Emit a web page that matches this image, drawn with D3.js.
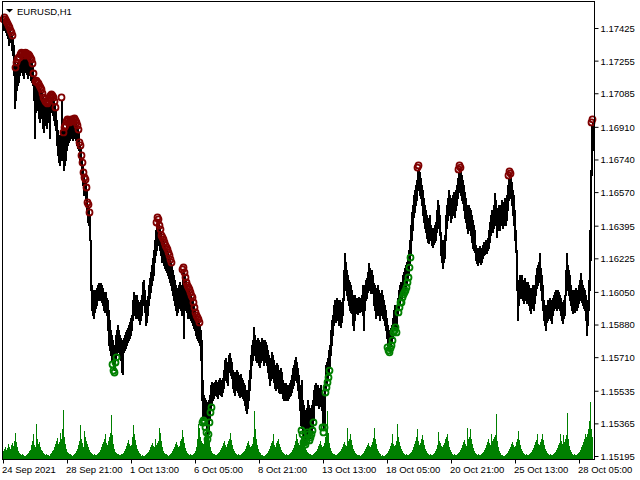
<!DOCTYPE html>
<html><head><meta charset="utf-8">
<script src="https://cdn.jsdelivr.net/npm/d3@7"></script>
<style>
html,body{margin:0;padding:0;background:#fff;}
svg{display:block;}
text{font-family:"Liberation Sans",Arial,sans-serif;font-size:9.5px;fill:#000;}
</style></head><body>
<svg id="c" width="640" height="480"></svg>
<script>
const symbol = "EURUSD,H1";
const timeLabels = ["24 Sep 2021","28 Sep 21:00","1 Oct 13:00","6 Oct 05:00","8 Oct 21:00","13 Oct 13:00","18 Oct 05:00","20 Oct 21:00","25 Oct 13:00","28 Oct 05:00"];
const timeLabelBars = [0,64,128,192,256,320,384,448,512,576];
const priceTicks = [1.17425,1.17255,1.17085,1.16910,1.16740,1.16570,1.16395,1.16225,1.16050,1.15880,1.15710,1.15535,1.15365,1.15195];
// price = 1 + points / 100000
const highPoints = [
17457,17467,17457,17446,17436,17425,17415,17399,17389,17373,
17336,17258,17206,17232,17248,17258,17258,17274,17284,17279,
17268,17279,17284,17279,17268,17274,17268,17258,17248,17227,
17175,17154,17133,17138,17128,17123,17112,17102,17092,17071,
17050,17040,17029,17024,17019,17029,17050,17060,17066,17060,
17050,17029,16998,16946,16894,16868,16842,16868,17050,16946,
16868,16894,16904,16925,16936,16930,16920,16925,16936,16925,
16936,16941,16930,16920,16904,16883,16816,16800,16748,16711,
16659,16633,16623,16581,16503,16492,16451,16321,16086,16060,
16034,16060,16050,16070,16086,16096,16091,16096,16086,16070,
16050,16034,16050,16018,16008,15956,15904,15852,15826,15800,
15774,15758,15826,15852,15878,15852,15826,15810,15800,15774,
15810,15826,15842,15852,15862,15878,15894,15914,15930,16008,
16050,16034,16018,16034,16008,15998,15982,16008,16034,16102,
16112,16060,16008,15998,16029,16086,16122,16154,16190,16227,
16269,16321,16373,16399,16425,16415,16383,16363,16331,16321,
16311,16295,16279,16269,16259,16242,16227,16206,16190,16164,
16138,16112,16086,16060,16070,16086,16102,16086,16070,16154,
16164,16138,16112,16086,16070,16060,16050,16034,16018,16008,
15982,15956,15930,15914,15904,15894,15878,15852,15800,15591,
15513,15497,15487,15477,15461,15487,15513,15565,15581,15575,
15565,15581,15591,15581,15570,15591,15601,15591,15581,15601,
15643,15695,15706,15685,15669,15722,15732,15706,15685,15643,
15633,15617,15633,15643,15633,15617,15612,15622,15601,15591,
15575,15565,15539,15513,15539,15591,15643,15722,15774,15800,
15867,15826,15800,15790,15810,15800,15774,15790,15810,15800,
15784,15800,15790,15774,15748,15722,15695,15706,15738,15722,
15695,15669,15653,15680,15669,15643,15633,15653,15633,15591,
15575,15565,15575,15565,15555,15565,15575,15591,15617,15653,
15669,15695,15711,15685,15653,15617,15565,15513,15591,15487,
15461,15435,15425,15445,15487,15461,15435,15445,15461,15487,
15539,15565,15575,15549,15565,15539,15549,15565,15539,15513,
15487,15591,15669,15685,15706,15748,15774,15852,15904,15930,
15982,16008,15998,16018,16008,15992,16008,15982,15998,16018,
16164,16253,16206,16164,16138,16112,16102,16086,16060,16034,
16008,16034,16008,16018,16008,16024,16008,16018,16034,16086,
16060,16086,16112,16122,16154,16201,16174,16154,16164,16138,
16096,16086,16060,16070,16086,16060,16034,16044,16060,16034,
16008,15982,15956,15914,15878,15852,15842,15862,15878,15914,
15956,15982,15966,15956,16018,16060,16086,16102,16086,16138,
16154,16174,16190,16206,16227,16269,16321,16399,16467,16503,
16555,16581,16607,16633,16685,16696,16675,16644,16607,16581,
16539,16503,16477,16451,16435,16425,16451,16399,16383,16373,
16383,16399,16415,16477,16529,16503,16451,16363,16321,16295,
16321,16347,16451,16503,16539,16581,16555,16529,16539,16555,
16571,16555,16581,16607,16644,16675,16696,16685,16659,16633,
16607,16571,16539,16503,16477,16503,16487,16477,16451,16425,
16399,16373,16295,16279,16269,16279,16290,16269,16279,16295,
16311,16300,16321,16311,16331,16373,16415,16451,16477,16467,
16503,16565,16529,16477,16487,16503,16477,16503,16529,16503,
16519,16539,16529,16555,16607,16644,16665,16654,16623,16581,
16555,16477,16373,16269,16086,16112,16138,16122,16138,16112,
16096,16122,16102,16086,16102,16086,16070,16050,16070,16086,
16060,16086,16138,16174,16190,16206,16253,16174,16138,16086,
16008,15982,15966,15982,16008,15998,16018,16008,15992,16018,
16034,16050,16060,16044,16060,16050,16034,16018,15998,15982,
16008,16034,16164,16253,16190,16164,16138,16086,16060,16050,
16060,16044,16070,16050,16060,16086,16112,16148,16112,16086,
16070,16060,16034,15982,16008,16112,16373,16685,16920,16936];
const lowPoints = [
17415,17425,17405,17389,17373,17336,17363,17352,17310,17284,
17180,17008,17050,17102,17128,17144,17180,17196,17206,17180,
17164,17196,17206,17185,17164,17196,17180,17154,17144,17128,
17050,16852,16988,17024,16998,16956,16936,16972,16956,16904,
16883,16946,16920,16904,16936,16956,16852,16988,16988,16972,
16946,16920,16894,16816,16764,16727,16711,16737,16790,16737,
16685,16711,16737,16790,16816,16832,16842,16852,16863,16842,
16852,16863,16842,16816,16800,16790,16737,16711,16644,16607,
16555,16571,16529,16467,16415,16399,16321,16060,15956,15930,
15914,15946,15966,15982,16008,16018,16008,16018,15998,15982,
15956,15946,15966,15930,15852,15774,15748,15722,15695,15685,
15653,15643,15695,15722,15748,15738,15722,15695,15633,15622,
15738,15748,15758,15774,15790,15800,15810,15826,15852,15904,
15946,15930,15914,15956,15914,15904,15883,15904,15930,15982,
16008,15946,15878,15894,15930,15982,16018,16050,16086,16112,
16138,16206,16242,16269,16321,16295,16269,16242,16206,16206,
16190,16174,16164,16154,16138,16122,16102,16086,16060,16034,
16008,15982,15956,15930,15946,15966,15982,15956,15930,16008,
15810,15982,15956,15946,15914,15930,15914,15904,15894,15878,
15862,15852,15826,15810,15800,15790,15774,15695,15487,15383,
15393,15383,15357,15331,15295,15321,15383,15435,15461,15487,
15497,15513,15523,15508,15497,15518,15529,15513,15508,15529,
15549,15591,15601,15581,15565,15633,15643,15617,15601,15549,
15529,15513,15539,15549,15529,15513,15503,15518,15508,15497,
15487,15461,15435,15419,15445,15487,15539,15601,15669,15695,
15748,15722,15695,15685,15706,15669,15659,15685,15706,15695,
15669,15695,15685,15669,15633,15601,15565,15591,15617,15601,
15581,15549,15539,15565,15549,15529,15523,15539,15523,15497,
15487,15487,15497,15487,15487,15497,15508,15513,15529,15549,
15565,15591,15601,15581,15539,15497,15435,15357,15341,15321,
15279,15279,15268,15289,15331,15321,15289,15305,15321,15341,
15383,15461,15487,15461,15477,15445,15456,15471,15435,15357,
15331,15357,15539,15565,15591,15617,15653,15722,15774,15826,
15878,15914,15894,15930,15904,15878,15914,15867,15894,15930,
16008,16112,16060,16034,16008,15982,15956,15946,15940,15878,
15852,15904,15940,15946,15935,15956,15946,15951,15956,15930,
15852,15956,16008,16018,16050,16086,16060,16044,16060,16044,
15982,15956,15914,15930,15966,15930,15904,15930,15946,15914,
15904,15878,15852,15810,15774,15758,15748,15769,15784,15810,
15852,15862,15878,15852,15930,15956,15982,16008,16008,16034,
16050,16060,16070,16086,16112,16138,16190,16242,16321,16373,
16441,16467,16503,16529,16581,16607,16555,16539,16503,16451,
16415,16383,16363,16331,16311,16305,16347,16321,16295,16284,
16300,16311,16321,16363,16399,16383,16347,16242,16206,16174,
16206,16227,16321,16383,16425,16467,16451,16415,16435,16451,
16467,16441,16477,16503,16539,16571,16592,16555,16529,16513,
16477,16435,16415,16383,16357,16383,16373,16347,16311,16279,
16269,16258,16216,16201,16190,16206,16216,16195,16206,16227,
16242,16248,16258,16253,16269,16279,16311,16347,16373,16363,
16383,16435,16399,16336,16373,16383,16373,16399,16415,16383,
16399,16425,16399,16425,16477,16529,16555,16539,16503,16451,
16399,16321,16258,16060,15904,15982,16034,16018,16044,16008,
15992,16024,16008,15992,16008,15982,15956,15940,15966,15982,
15956,15992,16034,16070,16086,16102,16122,16060,16008,15956,
15904,15878,15852,15894,15904,15914,15930,15904,15888,15930,
15956,15966,15977,15956,15982,15966,15956,15930,15904,15888,
15914,15930,16034,16112,16060,16034,16008,15982,15956,15940,
15966,15946,15977,15956,15972,15992,16008,16034,15998,15982,
15966,15956,15904,15826,15878,15956,16060,16216,16659,16790];
const tickVolumes = [
800,1000,1200,900,1100,1500,1200,1000,1400,1600,1300,1800,2600,1700,1200,800,600,500,400,
500,400,300,300,400,500,600,800,900,1400,1800,2500,1400,1200,3500,2000,1500,1700,1200,900,800,600,500,400,
500,400,400,300,500,600,800,900,1200,1500,1800,2100,1500,1700,2600,2000,3000,4900,2200,1500,1000,700,600,500,
500,400,300,400,500,600,800,1000,1400,1800,3400,2000,1600,1200,2800,2200,1800,1500,1200,900,700,600,500,400,
500,400,400,500,600,700,900,1200,1500,1700,2000,2500,1600,1400,1800,2200,2600,4400,2400,1500,1000,700,600,500,
500,400,400,500,500,600,800,1000,1300,1600,1900,1500,1300,1400,2200,3400,2500,1900,1400,1000,800,600,500,300,
400,300,300,400,500,600,700,900,1200,1400,1600,1300,1200,2000,1400,1600,1800,3100,2600,1800,1200,800,600,500,
500,400,300,400,500,600,800,1000,1200,1500,1700,1400,1200,1300,1800,2000,2900,2200,1600,1100,800,600,500,400,
500,400,400,500,600,800,1200,2000,3500,3100,2200,1800,1600,1500,2000,2500,3000,4000,2800,1800,1200,800,600,500,
500,400,400,500,600,700,900,1100,1300,1600,1800,1400,1200,1500,1800,2000,2600,1900,1400,1000,800,600,500,400,
500,400,400,500,600,700,800,1000,1300,1600,1800,1400,1200,1300,1500,2200,4800,3000,2000,1400,1000,700,600,400,
400,300,300,400,500,600,800,1000,1300,1600,1800,2500,1400,1200,1600,1800,2000,1500,1200,900,700,600,500,400,
500,400,400,500,600,700,900,1100,1400,1800,2500,2000,1600,1400,1700,2200,3000,2400,1600,1200,900,700,600,500,
500,400,400,500,600,700,800,1000,1300,1500,1800,1400,1200,1300,1600,2200,3000,4800,2600,1600,1100,800,600,500,
500,400,400,500,600,700,800,1000,1200,1500,1700,1400,1300,3100,1800,2000,2500,1900,1400,1000,800,600,500,400,
400,400,300,400,500,600,800,1000,1200,1400,1600,1300,1200,1400,1700,2100,3100,2000,1500,1000,800,600,500,300,
400,300,300,400,500,600,800,1000,1300,1600,2500,1500,1300,1400,1800,3500,2200,1700,1300,1000,800,600,500,400,
500,400,400,500,600,700,900,1200,1500,1800,2200,3000,1800,1400,1600,2000,2400,1900,1400,1000,800,600,500,400,
500,400,400,500,600,800,1000,1400,2700,1800,1600,1300,1200,1400,1600,2000,2200,2500,1800,1200,900,700,500,400,
500,400,400,500,600,700,900,1100,1400,1700,1900,1500,1300,3100,2000,2200,3000,2000,1500,1100,800,600,500,400,
500,400,400,500,600,700,900,1100,1400,1700,2000,1600,1400,2500,1800,2000,2200,2400,4500,1800,1200,800,600,400,
400,300,300,400,500,600,800,1000,1200,1500,1700,1400,1200,1300,1700,2000,2800,1900,1400,1000,800,600,500,400,
500,400,400,500,600,700,900,1100,1400,1700,1900,2500,1500,1400,1700,2000,2500,1900,1400,1000,800,600,500,400,
500,400,400,500,600,700,900,1100,1400,1600,2500,1800,1500,2400,1700,2000,2400,4600,2000,1300,900,700,500,400,
500,400,400,500,600,700,900,1200,1400,1700,2000,2500,2200,2500,3000,3800,5700,3000,2200];
const sellSignals = [0,1,2,3,4,5,6,7,8,9,
12,13,14,15,16,17,18,19,20,21,22,23,24,25,26,27,28,29,30,
32,33,34,35,36,37,38,39,40,41,42,43,44,45,46,47,48,49,50,51,52,
58,
60,61,62,63,64,65,66,67,68,69,70,71,72,73,74,75,76,77,78,79,80,81,82,83,84,85,86,
153,154,155,156,157,158,159,160,161,162,163,164,165,166,167,168,
179,180,181,182,183,184,185,186,187,188,189,190,191,192,193,194,195,196,
414,415,455,456,457,505,506,507,588,589];
const buySignals = [109,110,111,112,113,
199,200,201,202,203,204,205,206,207,208,
298,299,300,301,302,303,304,305,306,307,308,309,310,
319,320,321,322,323,324,325,326,
384,385,386,387,388,389,390,391,392,393,
395,396,397,398,399,400,401,402,403,404,405,406,407];

const bars = highPoints.map((h, i) => ({
  i, high: 1 + h / 1e5, low: 1 + lowPoints[i] / 1e5, vol: tickVolumes[i]
}));

const svg = d3.select('#c');
const frame = {l: 2.5, r: 594.5, t: 1.5, b: 459.5};
const x = d3.scaleLinear().domain([0, bars.length - 1]).range([3, 3 + bars.length - 1]);
const y = d3.scaleLinear().domain([1.15195, 1.17425]).range([456, 28]);
const yv = d3.scaleLinear().domain([0, 6000]).range([459, 399]);

// volumes
svg.append('g').attr('shape-rendering', 'crispEdges').selectAll('rect').data(bars).join('rect')
  .attr('x', d => x(d.i)).attr('width', 1)
  .attr('y', d => yv(d.vol)).attr('height', d => yv(0) - yv(d.vol))
  .attr('fill', '#008000');

// price bars
svg.append('g').attr('shape-rendering', 'crispEdges').selectAll('rect').data(bars).join('rect')
  .attr('x', d => x(d.i)).attr('width', 2)
  .attr('y', d => Math.round(y(d.high)))
  .attr('height', d => Math.max(1, Math.round(y(d.low)) - Math.round(y(d.high)) + 1))
  .attr('fill', '#000');

// signals
svg.append('g').selectAll('circle').data(sellSignals).join('circle')
  .attr('cx', i => x(i) + 0.5).attr('cy', i => y(bars[i].high) - 2.5).attr('r', 3)
  .attr('fill', 'none').attr('stroke', '#800000').attr('stroke-width', 1.8);
svg.append('g').selectAll('circle').data(buySignals).join('circle')
  .attr('cx', i => x(i) + 0.5).attr('cy', i => y(bars[i].low) + 2.5).attr('r', 3)
  .attr('fill', 'none').attr('stroke', '#008000').attr('stroke-width', 1.8);

// frame
svg.append('rect').attr('x', frame.l).attr('y', frame.t)
  .attr('width', frame.r - frame.l).attr('height', frame.b - frame.t)
  .attr('fill', 'none').attr('stroke', '#000').attr('stroke-width', 1);

// price axis
const ya = svg.append('g').attr('transform', `translate(${frame.r},0)`)
  .call(d3.axisRight(y).tickValues(priceTicks).tickSize(4).tickPadding(2).tickFormat(d3.format('.5f')));
ya.select('.domain').remove();
ya.selectAll('text').attr('font-family', null).attr('font-size', null).attr('dy', '0.36em');
ya.selectAll('line').attr('stroke', '#000');

// time axis
const xa = svg.append('g').attr('transform', `translate(0,${frame.b})`)
  .call(d3.axisBottom(x).tickValues(timeLabelBars).tickSize(4).tickPadding(3)
    .tickFormat((d, i) => timeLabels[i]));
xa.select('.domain').remove();
xa.selectAll('text').attr('font-family', null).attr('font-size', null)
  .attr('text-anchor', 'start').attr('x', -1.5);
xa.selectAll('line').attr('stroke', '#000');

// title
svg.append('path').attr('d', 'M6,9 L13,9 L9.5,12.5 Z').attr('fill', '#000');
svg.append('text').attr('x', 17).attr('y', 15).text(symbol);
</script>
</body></html>
